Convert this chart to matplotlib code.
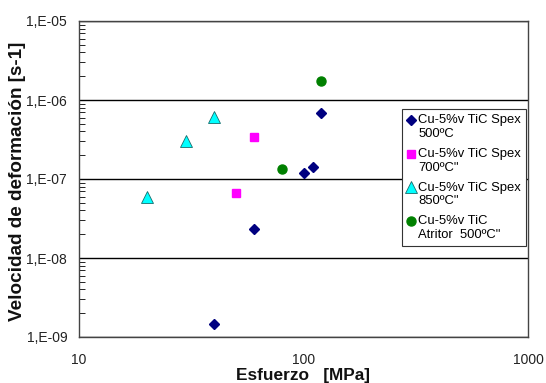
import numpy as np
import matplotlib.pyplot as plt
from matplotlib.ticker import FuncFormatter, LogLocator, NullFormatter
from matplotlib.legend_handler import HandlerLine2D

plt.rcParams['font.family'] = ['Liberation Sans', 'DejaVu Sans']

# Cu-5%v TiC Spex 500ºC
spex500_x = [40, 60, 100, 110, 120]
spex500_y = [1.45e-9, 2.3e-8, 1.18e-7, 1.43e-7, 6.8e-7]
# Cu-5%v TiC Spex 700ºC
spex700_x = [50, 60]
spex700_y = [6.6e-8, 3.4e-7]
# Cu-5%v TiC Spex 850ºC
spex850_x = [20, 30, 40]
spex850_y = [6.0e-8, 3.0e-7, 6.1e-7]
# Cu-5%v TiC Atritor 500ºC
atr500_x = [80, 120]
atr500_y = [1.34e-7, 1.75e-6]

labels = ['Cu-5%v TiC Spex\n500ºC', 'Cu-5%v TiC Spex\n700ºC"',
          'Cu-5%v TiC Spex\n850ºC"', 'Cu-5%v TiC\nAtritor  500ºC"']


class FirstLineHandler(HandlerLine2D):
    # put the marker next to the first line of a two-line label
    def create_artists(self, legend, orig_handle, xdescent, ydescent,
                       width, height, fontsize, trans):
        arts = super().create_artists(legend, orig_handle, xdescent, ydescent,
                                      width, height, fontsize, trans)
        for a in arts:
            a.set_ydata(np.asarray(a.get_ydata()) + 0.55 * fontsize)
        return arts


fig = plt.figure(figsize=(5.46, 3.83), dpi=100)
ax = fig.add_axes([79/546, 1 - 337/383, 449/546, 316/383])

ax.plot(spex500_x, spex500_y, 'D', color='#000080', ms=5, label=labels[0], ls='none')
ax.plot(spex700_x, spex700_y, 's', color='#ff00ff', ms=6, label=labels[1], ls='none')
ax.plot(spex850_x, spex850_y, '^', color='#00ffff', mec='#1a6b6b', mew=0.6, ms=8, label=labels[2], ls='none')
ax.plot(atr500_x, atr500_y, 'o', color='#008000', ms=6.5, label=labels[3], ls='none')

ax.set_xscale('log')
ax.set_yscale('log')
ax.set_xlim(10, 1000)
ax.set_ylim(1e-9, 1e-5)

ax.yaxis.set_major_locator(LogLocator(base=10))
ax.yaxis.set_major_formatter(FuncFormatter(lambda v, p: '1,E-%02d' % round(-np.log10(v))))
ax.yaxis.set_minor_locator(LogLocator(base=10, subs=np.arange(2, 10)))
ax.yaxis.set_minor_formatter(NullFormatter())
ax.xaxis.set_major_formatter(FuncFormatter(lambda v, p: '%d' % v))
ax.xaxis.set_minor_formatter(NullFormatter())
ax.tick_params(axis='x', which='both', length=0, labelsize=10, pad=11.5, labelcolor='#222222')
ax.tick_params(axis='y', which='major', length=0, labelsize=10, pad=8.5, labelcolor='#222222')
ax.tick_params(axis='y', which='minor', direction='in', length=4, width=0.6)

ax.grid(True, axis='y', which='major', color='black', linewidth=1)
for s in ax.spines.values():
    s.set_color('#444444')
    s.set_linewidth(1)

fig.text(303.5/546, 1 - 380/383, 'Esfuerzo   [MPa]', fontweight='bold', fontsize=12.4,
         ha='center', va='baseline', color='#111111')
fig.text(18/546, 1 - 181/383, 'Velocidad de deformación [s-1]', fontweight='bold', fontsize=13.6,
         ha='center', va='center', rotation=90, color='#111111')

leg = ax.legend(loc='upper left', bbox_to_anchor=(0.7187, 0.7206), fontsize=9.4,
                frameon=True, fancybox=False, edgecolor='#333333', framealpha=1,
                handlelength=0.6, handletextpad=0.3, borderpad=0.38, labelspacing=0.6,
                borderaxespad=0, handler_map={plt.Line2D: FirstLineHandler()})
leg.get_frame().set_linewidth(0.8)
for t in leg.get_texts():
    t.set_linespacing(1.2)

fig.savefig('out.png', dpi=100)
